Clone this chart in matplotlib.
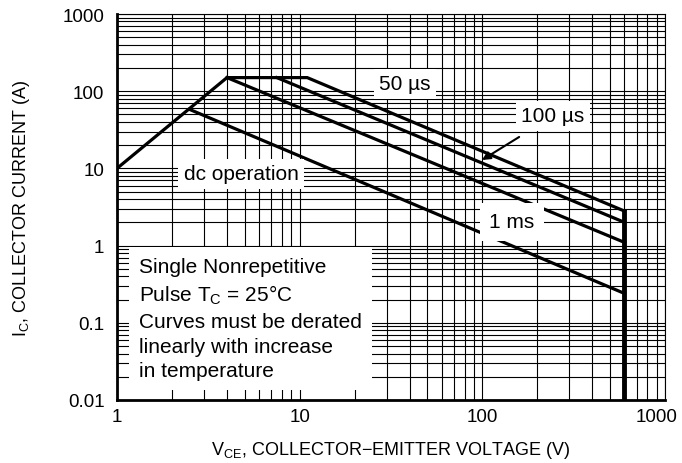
import matplotlib
matplotlib.use("Agg")
import matplotlib.pyplot as plt
import matplotlib.transforms as mtransforms

plt.rcParams['font.family'] = ['Liberation Sans', 'DejaVu Sans']
plt.rcParams['mathtext.default'] = 'regular'

# envelope: rise, 150 A flat, 50 us slope, vertical limit at 600 V
env_v = [1, 4, 11, 600, 600]
env_i = [10, 150, 150, 2.8, 0.01]
# 100 us
us100_v = [7.5, 600]
us100_i = [150, 2.0]
# 1 ms
ms1_v = [4, 600]
ms1_i = [150, 1.1]
# dc operation
dc_v = [2.5, 600]
dc_i = [58, 0.24]

xticks = [1, 10, 100, 1000]
xlabels = ["1", "10", "100", "1000"]
yticks = [0.01, 0.1, 1, 10, 100, 1000]
ylabels = ["0.01", "0.1", "1", "10", "100", "1000"]

fig = plt.figure(figsize=(6.82, 4.64), dpi=100)
ax = fig.add_axes([117/682, 1-401/464, 548/682, 386/464])
ax.set_xscale('log')
ax.set_yscale('log')
ax.set_xlim(1, 1000)
ax.set_ylim(0.01, 1000)

ax.grid(True, which='both', color='black', linewidth=0.8, zorder=0)
ax.set_axisbelow(True)
ax.tick_params(which='both', length=0, labelsize=13.5)
ax.tick_params(axis='y', pad=9)
ax.tick_params(axis='x', pad=6)
ax.set_xticks(xticks)
ax.set_xticklabels(xlabels)
ax.set_yticks(yticks)
ax.set_yticklabels(ylabels)
# pull the last x label a little to the left so it stays inside
last = ax.get_xticklabels()[-1]
last.set_transform(last.get_transform() + mtransforms.ScaledTranslation(-8/100, 0, fig.dpi_scale_trans))
for s in ['left', 'bottom']:
    ax.spines[s].set_linewidth(2.0)
for s in ['top', 'right']:
    ax.spines[s].set_linewidth(0.8)

lw = 2.3
ax.plot(env_v[:4], env_i[:4], color='black', lw=lw, zorder=3, solid_joinstyle='miter')
ax.plot(env_v[3:], env_i[3:], color='black', lw=3.5, zorder=3)
ax.plot(us100_v, us100_i, color='black', lw=lw, zorder=3)
ax.plot(ms1_v, ms1_i, color='black', lw=lw, zorder=3)
ax.plot(dc_v, dc_i, color='black', lw=lw, zorder=3)

fs = 15
box = dict(facecolor='white', edgecolor='none', pad=4)
ax.text(405/682, 1-85/464, "50 µs", transform=fig.transFigure, fontsize=fs,
        ha='center', va='center', bbox=box, zorder=4)
ax.annotate("100 µs", xy=(482/682, 1-161/464), xycoords='figure fraction',
            xytext=(553/682, 1-117/464), textcoords='figure fraction',
            fontsize=fs, ha='center', va='center', bbox=box, zorder=4,
            arrowprops=dict(arrowstyle='-|>', color='black', lw=1.5,
                            shrinkA=8, shrinkB=0, mutation_scale=12))
ax.text(512/682, 1-223/464, "1 ms", transform=fig.transFigure, fontsize=fs,
        ha='center', va='center', bbox=dict(facecolor='white', edgecolor='none', pad=7), zorder=4)
ax.text(241/682, 1-175/464, "dc operation", transform=fig.transFigure, fontsize=fs,
        ha='center', va='center', bbox=box, zorder=4)

note = ("Single Nonrepetitive\n"
        "Pulse T$_{C}$ = 25°C\n"
        "Curves must be derated\n"
        "linearly with increase\n"
        "in temperature")
ax.text(139/682, 1-258/464, note, transform=fig.transFigure, fontsize=fs,
        ha='left', va='top', linespacing=1.38,
        bbox=dict(facecolor='white', edgecolor='none', pad=7), zorder=4)

ax.set_xlabel("V$_{CE}$, COLLECTOR\u2212EMITTER VOLTAGE (V)", fontsize=13, labelpad=10)
ax.set_ylabel("I$_{C}$, COLLECTOR CURRENT (A)", fontsize=13, labelpad=22)

fig.savefig("out.png", dpi=100)
